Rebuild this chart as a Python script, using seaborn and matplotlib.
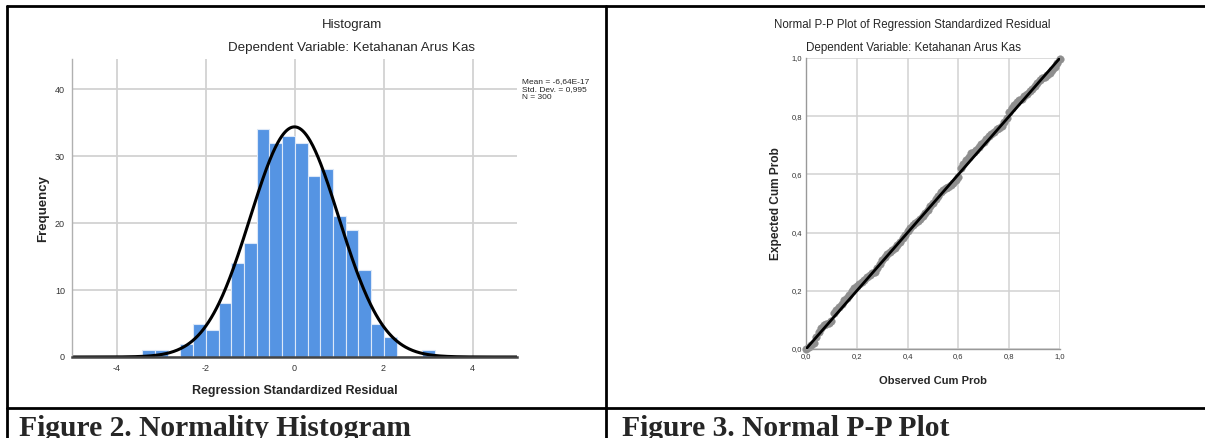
import numpy as np
import pandas as pd
import seaborn as sns
import matplotlib.pyplot as plt
from matplotlib.lines import Line2D
from matplotlib.ticker import FuncFormatter

# histogram of standardized residuals (SPSS output)
bin_start = -3.42
bin_width = 0.2857
counts = [1, 1, 0, 2, 5, 4, 8, 14, 17, 34, 32, 33, 32, 27, 28, 21, 19, 13, 5, 3, 0, 0, 1]
res_mean = -6.64e-17
res_sd = 0.995
res_n = 300

# normal P-P plot points
observed = [0.00, 0.01, 0.02, 0.03, 0.04, 0.05, 0.06, 0.07, 0.08, 0.09,
            0.10, 0.11, 0.12, 0.13, 0.14, 0.15, 0.16, 0.17, 0.18, 0.19,
            0.20, 0.21, 0.22, 0.23, 0.24, 0.25, 0.26, 0.27, 0.28, 0.29,
            0.30, 0.31, 0.32, 0.33, 0.34, 0.35, 0.36, 0.37, 0.38, 0.39,
            0.40, 0.41, 0.42, 0.43, 0.44, 0.45, 0.46, 0.47, 0.48, 0.49,
            0.50, 0.51, 0.52, 0.53, 0.54, 0.55, 0.56, 0.57, 0.58, 0.59,
            0.60, 0.61, 0.62, 0.63, 0.64, 0.65, 0.66, 0.67, 0.68, 0.69,
            0.70, 0.71, 0.72, 0.73, 0.74, 0.75, 0.76, 0.77, 0.78, 0.79,
            0.80, 0.81, 0.82, 0.83, 0.84, 0.85, 0.86, 0.87, 0.88, 0.89,
            0.90, 0.91, 0.92, 0.93, 0.94, 0.95, 0.96, 0.97, 0.98, 0.99, 1.00]
expected = [0.000, 0.007, 0.014, 0.022, 0.040, 0.060, 0.072, 0.082, 0.086, 0.088,
            0.097, 0.122, 0.134, 0.145, 0.156, 0.168, 0.176, 0.185, 0.198, 0.210,
            0.218, 0.225, 0.231, 0.238, 0.246, 0.255, 0.260, 0.265, 0.278, 0.293,
            0.305, 0.316, 0.326, 0.335, 0.340, 0.346, 0.356, 0.368, 0.381, 0.393,
            0.404, 0.415, 0.425, 0.434, 0.440, 0.447, 0.456, 0.466, 0.479, 0.492,
            0.503, 0.514, 0.526, 0.538, 0.545, 0.552, 0.558, 0.564, 0.571, 0.580,
            0.592, 0.622, 0.636, 0.650, 0.661, 0.672, 0.678, 0.685, 0.695, 0.705,
            0.713, 0.722, 0.731, 0.740, 0.747, 0.755, 0.761, 0.767, 0.779, 0.795,
            0.815, 0.828, 0.840, 0.848, 0.855, 0.860, 0.868, 0.877, 0.886, 0.894,
            0.903, 0.914, 0.925, 0.930, 0.935, 0.942, 0.950, 0.960, 0.970, 0.982, 0.995]

sns.set_style('white')
plt.rcParams['font.family'] = ['Liberation Sans', 'DejaVu Sans']

fig = plt.figure(figsize=(12.05, 4.38), dpi=100)
W, H = 1205.0, 438.0

def fx(px):
    return px / W

def fy(py):
    return 1 - py / H

grid_c = '#d2d2d2'

# ---------- HISTOGRAM ----------
ax = fig.add_axes([fx(72), fy(357), fx(517) - fx(72), fy(59) - fy(357)])
edges = [bin_start + bin_width * i for i in range(len(counts) + 1)]
centers = [e + bin_width / 2 for e in edges[:-1]]
df = pd.DataFrame({'resid': centers, 'freq': counts})
ax.set_axisbelow(True)
sns.histplot(data=df, x='resid', weights='freq', bins=edges, ax=ax,
             color='#5594e3', edgecolor='#dce8f8', linewidth=0.8, alpha=1)
xs = np.linspace(-5, 5, 500)
ys = res_n * bin_width * np.exp(-0.5 * ((xs - res_mean) / res_sd) ** 2) / (res_sd * np.sqrt(2 * np.pi))
sns.lineplot(x=xs, y=ys, ax=ax, color='black', linewidth=2.2)
ax.set_xlim(-5, 5)
ax.set_ylim(0, 44.5)
ax.set_xticks([-4, -2, 0, 2, 4])
ax.set_yticks([0, 10, 20, 30, 40])
ax.xaxis.set_major_formatter(FuncFormatter(lambda v, p: f'{v:.0f}'))
ax.grid(True, color=grid_c, linewidth=1.3)
ax.tick_params(length=0, labelsize=6.5, colors='#333333', pad=5)
for s in ['top', 'right']:
    ax.spines[s].set_visible(False)
ax.spines['left'].set_color('#b0b0b0')
ax.spines['left'].set_linewidth(1.0)
ax.spines['bottom'].set_color('#444444')
ax.spines['bottom'].set_linewidth(1.8)
ax.set_xlabel('Regression Standardized Residual', fontsize=9, fontweight='bold', labelpad=8.5)
ax.set_ylabel('Frequency', fontsize=9.5, fontweight='bold', labelpad=4)
fig.text(fx(352), fy(25), 'Histogram', ha='center', va='center', fontsize=9.5)
fig.text(fx(352), fy(48), 'Dependent Variable: Ketahanan Arus Kas', ha='center', va='center', fontsize=9.6)
legend_lines = ['Mean = -6,64E-17', 'Std. Dev. = 0,995', 'N = ' + str(res_n)]
for i, t in enumerate(legend_lines):
    fig.text(fx(522), fy(82 + 8 * i), t, ha='left', va='center', fontsize=6)

# ---------- P-P PLOT ----------
bx = fig.add_axes([fx(806), fy(349), fx(1060) - fx(806), fy(58) - fy(349)])
bx.set_axisbelow(True)
pp = pd.DataFrame({'obs': observed, 'exp': expected})
sns.scatterplot(data=pp, x='obs', y='exp', ax=bx, s=30, color='#8e8e8e',
                edgecolor='#8e8e8e', linewidth=0.3, zorder=2, clip_on=False)
sns.lineplot(x=[0, 1], y=[0, 1], ax=bx, color='black', linewidth=2.0, zorder=3)
bx.set_xlim(0, 1)
bx.set_ylim(0, 1)
ticks = [0, 0.2, 0.4, 0.6, 0.8, 1.0]
bx.set_xticks(ticks)
bx.set_yticks(ticks)
comma = FuncFormatter(lambda v, p: f'{v:.1f}'.replace('.', ','))
bx.xaxis.set_major_formatter(comma)
bx.yaxis.set_major_formatter(comma)
bx.grid(True, color=grid_c, linewidth=1.1)
bx.tick_params(length=0, labelsize=5.5, colors='#333333', pad=3)
for s in ['top', 'right']:
    bx.spines[s].set_visible(False)
for s in ['left', 'bottom']:
    bx.spines[s].set_color('#999999')
    bx.spines[s].set_linewidth(1.0)
bx.set_xlabel('Observed Cum Prob', fontsize=8, fontweight='bold', labelpad=11.5)
bx.set_ylabel('Expected Cum Prob', fontsize=8.6, fontweight='bold', labelpad=7)
fig.text(fx(912), fy(25), 'Normal P-P Plot of Regression Standardized Residual', ha='center', va='center', fontsize=8.3)
fig.text(fx(913), fy(48), 'Dependent Variable: Ketahanan Arus Kas', ha='center', va='center', fontsize=8.4)

# ---------- table borders and captions ----------
lw = 2.0
fig.add_artist(Line2D([fx(7), 1], [fy(6), fy(6)], color='black', linewidth=lw))
fig.add_artist(Line2D([fx(7), 1], [fy(408), fy(408)], color='black', linewidth=lw))
fig.add_artist(Line2D([fx(7), fx(7)], [fy(6), 0], color='black', linewidth=lw))
fig.add_artist(Line2D([fx(606), fx(606)], [fy(6), 0], color='black', linewidth=lw))
fig.text(fx(19), fy(436.5), 'Figure 2. Normality Histogram', family=['Liberation Serif', 'DejaVu Serif'],
         fontsize=21.3, fontweight='bold', ha='left', va='baseline')
fig.text(fx(622), fy(436.5), 'Figure 3. Normal P-P Plot', family=['Liberation Serif', 'DejaVu Serif'],
         fontsize=21.3, fontweight='bold', ha='left', va='baseline')

fig.savefig('out.png', dpi=100)
